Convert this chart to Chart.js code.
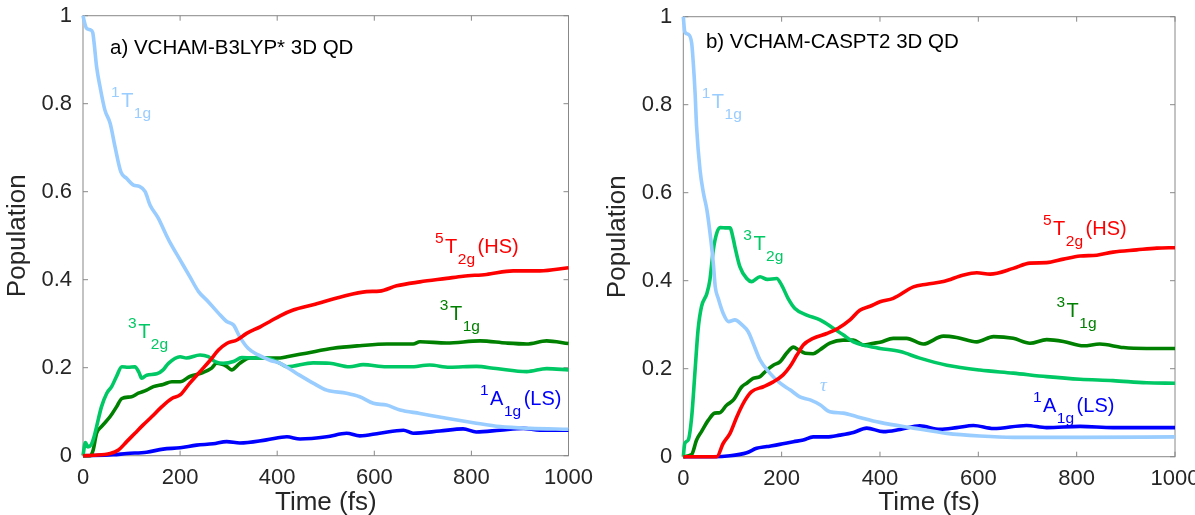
<!DOCTYPE html>
<html><head><meta charset="utf-8">
<script src="https://cdn.jsdelivr.net/npm/chart.js@4/dist/chart.umd.min.js"></script>
<style>
html,body{margin:0;padding:0;background:#fff;overflow:hidden;width:1195px;height:515px;}
#wa{position:absolute;left:0;top:0;width:600px;height:515px;}
#wb{position:absolute;left:600px;top:0;width:620px;height:515px;}
</style></head><body>
<div id="wa"><canvas id="ca" width="600" height="515"></canvas></div>
<div id="wb"><canvas id="cb" width="620" height="515"></canvas></div>
<script>
// ---------- tick values ----------
const xTicks = [0, 200, 400, 600, 800, 1000];
const yTicks = [0, 0.2, 0.4, 0.6, 0.8, 1];

// ---------- panel a) VCHAM-B3LYP* 3D QD ----------
const tA_1T1g = [0,2,7,15,20,23,28,35,45,56,66,78,90,104,116,128,138,155,170,180,200,220,238,258,279,296,310,323,340,361,385,406,440,474,502,543,570,598,625,653,694,749,804,859,921,1000];
const pA_1T1g = [1.0,0.99,0.972,0.968,0.962,0.937,0.884,0.839,0.786,0.755,0.702,0.645,0.63,0.615,0.612,0.60,0.57,0.54,0.505,0.483,0.445,0.407,0.373,0.35,0.324,0.305,0.297,0.27,0.244,0.229,0.217,0.21,0.187,0.165,0.149,0.142,0.134,0.119,0.115,0.104,0.096,0.085,0.075,0.066,0.062,0.06];

const tA_3T2g = [0,5,10,17,22,28,38,49,59,69,80,93,107,115,121,131,152,165,176,200,213,241,258,272,289,310,327,350,377,406,420,474,508,549,577,625,673,714,755,810,851,914,955,1000];
const pA_3T2g = [0.0,0.03,0.02,0.025,0.04,0.066,0.111,0.142,0.157,0.18,0.202,0.201,0.202,0.19,0.176,0.183,0.186,0.195,0.21,0.225,0.222,0.229,0.225,0.214,0.21,0.214,0.223,0.222,0.222,0.21,0.202,0.211,0.21,0.202,0.207,0.202,0.202,0.206,0.201,0.203,0.198,0.191,0.198,0.195];

const tA_3T1g = [0,15,21,28,38,56,69,80,100,114,131,145,165,183,200,220,247,265,275,296,306,323,344,371,406,420,460,515,570,626,680,694,749,818,872,914,955,1000];
const pA_3T1g = [0,0.0,0.013,0.051,0.066,0.089,0.111,0.13,0.134,0.142,0.149,0.157,0.162,0.168,0.168,0.18,0.189,0.199,0.21,0.203,0.195,0.21,0.222,0.222,0.222,0.225,0.233,0.244,0.25,0.254,0.254,0.259,0.256,0.261,0.256,0.254,0.261,0.255];

const tA_5T2g = [0,21,56,73,90,107,124,142,162,183,200,220,241,262,279,296,317,337,365,385,406,433,474,529,584,611,646,694,749,783,831,886,941,1000];
const pA_5T2g = [0,0.001,0.005,0.013,0.032,0.051,0.07,0.089,0.111,0.13,0.138,0.165,0.191,0.217,0.24,0.255,0.263,0.278,0.293,0.305,0.318,0.331,0.343,0.36,0.373,0.374,0.386,0.395,0.403,0.408,0.412,0.42,0.42,0.427];

const tA_1A1g = [0,62,90,131,165,200,234,268,296,323,378,420,447,502,543,570,611,660,680,735,783,810,859,907,941,1000];
const pA_1A1g = [0,0.002,0.005,0.008,0.015,0.018,0.024,0.027,0.032,0.029,0.036,0.043,0.038,0.043,0.051,0.045,0.051,0.058,0.051,0.056,0.061,0.054,0.058,0.062,0.058,0.058];

// ---------- panel b) VCHAM-CASPT2 3D QD ----------
const tB_1T1g = [0,3,10,17,20,24,27,34,41,48,56,61,65,71,81,92,105,119,132,142,156,176,197,217,237,258,278,298,325,353,400,468,536,603,671,808,1000];
const pB_1T1g = [1.0,0.966,0.96,0.94,0.90,0.826,0.75,0.652,0.599,0.561,0.493,0.44,0.386,0.36,0.326,0.307,0.311,0.30,0.284,0.258,0.22,0.19,0.167,0.152,0.136,0.129,0.118,0.102,0.099,0.091,0.078,0.065,0.053,0.047,0.044,0.044,0.045];

const tB_3T2g = [0,3,10,17,24,30,37,48,54,61,68,75,88,95,102,105,115,129,139,156,171,190,200,213,227,251,278,305,325,346,373,400,441,481,536,603,671,739,807,874,942,1000];
const pB_3T2g = [0.0,0.03,0.038,0.09,0.197,0.288,0.341,0.371,0.401,0.47,0.508,0.521,0.52,0.52,0.493,0.477,0.432,0.405,0.398,0.409,0.403,0.405,0.39,0.36,0.337,0.322,0.311,0.292,0.277,0.261,0.252,0.246,0.239,0.224,0.208,0.197,0.19,0.182,0.176,0.173,0.168,0.167];

const tB_3T1g = [0,17,27,37,51,64,74,88,102,119,129,142,156,170,183,197,210,224,234,248,264,278,298,325,346,366,387,400,427,454,488,529,556,597,631,671,705,739,773,814,847,895,942,1000];
const pB_3T1g = [0,0.005,0.038,0.057,0.083,0.099,0.1,0.117,0.129,0.159,0.167,0.178,0.182,0.197,0.208,0.216,0.235,0.249,0.243,0.235,0.234,0.243,0.258,0.265,0.265,0.254,0.258,0.26,0.269,0.269,0.256,0.274,0.271,0.261,0.273,0.269,0.258,0.266,0.262,0.252,0.256,0.248,0.246,0.246];

const tB_5T2g = [0,68,81,95,109,126,139,163,183,203,217,231,244,264,292,315,339,359,380,400,427,468,495,529,570,597,624,671,705,739,773,807,841,874,922,963,1000];
const pB_5T2g = [0,0,0.03,0.053,0.091,0.129,0.148,0.159,0.17,0.186,0.205,0.231,0.254,0.269,0.28,0.292,0.311,0.333,0.342,0.352,0.36,0.386,0.392,0.398,0.413,0.418,0.415,0.428,0.44,0.441,0.449,0.456,0.458,0.465,0.47,0.474,0.475];

const tB_1A1g = [0,60,95,129,149,170,196,224,244,264,292,318,346,373,407,441,481,522,556,590,631,698,739,807,874,1000];
const pB_1A1g = [0,0,0.002,0.009,0.019,0.023,0.028,0.034,0.038,0.045,0.045,0.049,0.055,0.065,0.057,0.062,0.07,0.062,0.066,0.071,0.064,0.071,0.066,0.069,0.066,0.066];

// ---------- styling ----------
const C_LB = '#99ccff', C_MG = '#00c864', C_DG = '#008000', C_RD = '#ff0000', C_BL = '#0000ff';
const FAM = "'Liberation Sans', Arial, Helvetica, sans-serif";
const TXT = '#262626';

function pts(t, v){ return t.map((x,i)=>({x:x, y:v[i]})); }
function ds(t, v, color){
  return {data: pts(t,v), borderColor: color, borderWidth: 3.6, pointRadius: 0,
          cubicInterpolationMode: 'monotone', clip: false, fill: false};
}

const boxPlugin = {
  id: 'box',
  beforeDatasetsDraw(chart){
    const {ctx, chartArea: a, scales: {x, y}} = chart;
    ctx.save();
    ctx.strokeStyle = '#888888'; ctx.lineWidth = 1;
    ctx.strokeRect(a.left, a.top, a.right - a.left, a.bottom - a.top);
    ctx.beginPath();
    xTicks.forEach(v => { const p = x.getPixelForValue(v);
      ctx.moveTo(p, a.bottom); ctx.lineTo(p, a.bottom - 5);
      ctx.moveTo(p, a.top); ctx.lineTo(p, a.top + 5); });
    yTicks.forEach(v => { const p = y.getPixelForValue(v);
      ctx.moveTo(a.left, p); ctx.lineTo(a.left + 5, p);
      ctx.moveTo(a.right, p); ctx.lineTo(a.right - 5, p); });
    ctx.stroke();
    ctx.restore();
  }
};

const labelPlugin = {
  id: 'stateLabels',
  afterDatasetsDraw(chart, args, opts){
    const {ctx, scales: {x, y}} = chart;
    ctx.save();
    ctx.textBaseline = 'alphabetic'; ctx.textAlign = 'left';
    ctx.fillStyle = '#000';
    ctx.font = '20.5px ' + FAM;
    ctx.fillText(opts.title.text, x.getPixelForValue(opts.title.t), y.getPixelForValue(opts.title.v));
    (opts.items || []).forEach(it => {
      let px = x.getPixelForValue(it.t), py = y.getPixelForValue(it.v);
      ctx.fillStyle = it.color;
      if (it.italic){
        ctx.font = 'italic 19px "Liberation Serif", serif';
        ctx.fillText(it.main, px, py);
        return;
      }
      ctx.font = '15.5px ' + FAM;
      ctx.fillText(it.sup, px, py - 10);
      px += ctx.measureText(it.sup).width + 1.5;
      ctx.font = '20px ' + FAM;
      ctx.fillText(it.main, px, py);
      px += ctx.measureText(it.main).width + 0.5;
      ctx.font = '15.5px ' + FAM;
      ctx.fillText(it.sub, px, py + 11);
      px += ctx.measureText(it.sub).width + 2.5;
      if (it.tail){
        ctx.font = '20px ' + FAM;
        ctx.fillText(it.tail, px, py);
      }
    });
    ctx.restore();
  }
};

function makeChart(id, datasets, geo, labelOpts){
  return new Chart(document.getElementById(id), {
    type: 'line',
    data: {datasets: datasets},
    plugins: [boxPlugin, labelPlugin],
    options: {
      responsive: false, animation: false, devicePixelRatio: 1,
      layout: {padding: {left: 0, right: geo.padRight, top: geo.padTop, bottom: 0}},
      plugins: {legend: {display: false}, tooltip: {enabled: false}, stateLabels: labelOpts},
      scales: {
        x: {
          type: 'linear', min: 0, max: 1000,
          grid: {display: false, drawTicks: false}, border: {display: false},
          afterBuildTicks: s => { s.ticks = xTicks.map(v => ({value: v})); },
          afterFit: s => { s.height = geo.xHeight; s.paddingLeft = 0; s.paddingRight = 0; },
          ticks: {color: TXT, font: {size: 22, family: FAM}, padding: 9, maxRotation: 0, autoSkip: false,
                  callback: v => String(v)},
          title: {display: true, text: 'Time (fs)', color: TXT, font: {size: 26, family: FAM}, padding: {top: 0, bottom: -3}}
        },
        y: {
          type: 'linear', min: 0, max: 1,
          grid: {display: false, drawTicks: false}, border: {display: false},
          afterBuildTicks: s => { s.ticks = yTicks.map(v => ({value: v})); },
          afterFit: s => { s.width = geo.yWidth; s.paddingTop = 0; s.paddingBottom = 0; },
          ticks: {color: TXT, font: {size: 22, family: FAM}, padding: 11,
                  callback: v => String(Number(v.toFixed(1)))},
          title: {display: true, text: 'Population', color: TXT, font: {size: 26, family: FAM}, padding: {top: 2, bottom: 0}}
        }
      }
    }
  });
}

makeChart('ca', [
  ds(tA_5T2g, pA_5T2g, C_RD),
  ds(tA_1T1g, pA_1T1g, C_LB),
  ds(tA_3T2g, pA_3T2g, C_MG),
  ds(tA_3T1g, pA_3T1g, C_DG),
  ds(tA_1A1g, pA_1A1g, C_BL)
], {padRight: 31.5, padTop: 15.7, xHeight: 59.3, yWidth: 83}, {
  title: {text: 'a) VCHAM-B3LYP* 3D QD', t: 55.6, v: 0.914},
  items: [
    {sup:'1', main:'T', sub:'1g', tail:'', t: 57.7, v: 0.793, color: C_LB},
    {sup:'3', main:'T', sub:'2g', tail:'', t: 92.7, v: 0.2675, color: C_MG},
    {sup:'5', main:'T', sub:'2g', tail:'(HS)', t: 725, v: 0.461, color: C_RD},
    {sup:'3', main:'T', sub:'1g', tail:'', t: 735, v: 0.308, color: C_DG},
    {sup:'1', main:'A', sub:'1g', tail:'(LS)', t: 817.7, v: 0.115, color: C_BL}
  ]
});

makeChart('cb', [
  ds(tB_5T2g, pB_5T2g, C_RD),
  ds(tB_1T1g, pB_1T1g, C_LB),
  ds(tB_3T2g, pB_3T2g, C_MG),
  ds(tB_3T1g, pB_3T1g, C_DG),
  ds(tB_1A1g, pB_1A1g, C_BL)
], {padRight: 45, padTop: 16.7, xHeight: 58.3, yWidth: 83.3}, {
  title: {text: 'b) VCHAM-CASPT2 3D QD', t: 46, v: 0.928},
  items: [
    {sup:'1', main:'T', sub:'1g', tail:'', t: 37.4, v: 0.792, color: C_LB},
    {sup:'3', main:'T', sub:'2g', tail:'', t: 122, v: 0.47, color: C_MG},
    {sup:'5', main:'T', sub:'2g', tail:'(HS)', t: 731.5, v: 0.504, color: C_RD},
    {sup:'3', main:'T', sub:'1g', tail:'', t: 759, v: 0.318, color: C_DG},
    {sup:'1', main:'A', sub:'1g', tail:'(LS)', t: 711, v: 0.102, color: C_BL},
    {italic: true, main:'\u03c4', t: 278, v: 0.149, color: C_LB}
  ]
});
</script>
</body></html>
